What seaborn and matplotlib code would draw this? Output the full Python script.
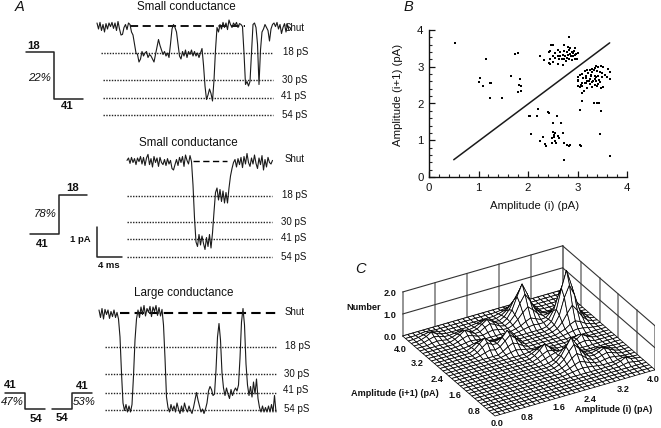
import numpy as np
import matplotlib
matplotlib.use("Agg")
import matplotlib.pyplot as plt
from matplotlib.lines import Line2D
from matplotlib.ticker import MultipleLocator
from mpl_toolkits.mplot3d import proj3d
import seaborn as sns

sns.set_style("white")
plt.rcParams['font.family'] = ['Liberation Sans', 'DejaVu Sans']

W, H = 661, 428
LEVEL_NAMES = ["18 pS", "30 pS", "41 pS", "54 pS"]
SAMPLE_MS = 0.24

# Panel A: current traces (pA), one sample every 0.24 ms
trace1 = [.1,-.1,.12,-.15,.05,-.2,.08,-.1,.1,-.02,.12,-.08,.1,-.15,.15,-.1,-.3,-.28,-.05,.05,-.12,.1,.05,-.2,
          -.3,-.6,-.9,-.95,
          -1.2,-1.1,-.85,-1.0,-.9,-.85,-1.05,-.95,-1.0,-1.1,-1.2,-.95,-.7,-.45,-.65,-.8,-.95,-.85,-1.0,-.9,-1.05,
          -.6,-.1,.05,-.05,-.2,-.6,
          -1.0,-1.1,-.85,-1.0,-.8,-1.05,-.85,-.95,-.8,-1.0,-.85,-1.0,-.9,-1.05,-.9,-.75,-1.3,
          -2.0,-2.45,-2.3,-2.1,-2.25,-2.5,-1.8,-.8,
          -.05,-.2,.05,-.1,.12,-.05,.1,-.12,.2,.05,-.05,.1,.02,.12,-.05,.08,.05,-.02,
          -.9,-1.95,-1.85,-2.0,-1.85,-.9,
          .05,.1,-.05,-.6,-1.95,-.8,
          -.2,-.1,.05,-.05,-.15,-.5,-.1,.05,.1,-.02,.12,-.1,.05,-.25,-.05,.08,-.2,.05,-.15]
trace2 = [.02,.1,-.08,.12,-.05,.08,-.12,.1,-.02,.15,-.1,.12,-.15,.1,.22,-.12,.08,-.2,.15,-.05,.1,-.18,.12,-.05,
          -.12,.05,-.15,.08,-.1,.02,-.25,-.3,-.12,.05,-.15,.12,-.05,.15,-.18,.2,.02,-.1,.18,-.02,
          -.8,-1.9,-2.7,-2.85,-2.45,-2.8,-2.5,-2.75,-2.95,-2.55,-2.85,-2.45,-2.9,-2.4,-1.7,
          -1.05,-.9,-1.3,-.95,-1.35,-1.0,-1.4,-1.05,-1.4,-.9,-.5,-.25,-.05,
          .05,-.2,.08,-.12,.12,-.22,.15,-.1,.25,-.05,-.18,.1,-.1,.2,-.08,-.25,.1,-.12,.18,-.3,.05,-.2,.12,-.05,-.1,.02]
trace3 = [.1,-.15,.15,-.2,.12,-.05,.1,-.18,.05,-.12,.1,-.15,.02,-.2,-.8,-2.0,-3.0,-3.25,-3.05,-3.3,-3.1,-3.3,-3.05,-2.1,-.9,
          -.2,.1,-.15,.2,-.05,.25,-.1,.15,.02,.22,-.12,.2,.05,.25,-.08,.18,-.1,.12,-.4,-1.5,-2.8,
          -3.15,-3.3,-3.05,-3.25,-3.1,-3.3,-3.0,-3.2,-3.35,-3.1,-3.3,-3.0,-3.2,-3.3,-3.1,-3.25,-3.35,-3.15,
          -2.9,-2.65,-2.9,-3.1,-3.3,-3.2,-3.35,-3.2,-3.0,-2.6,-2.45,-2.55,-2.75,-2.7,
          -1.9,-.8,-.35,-.9,-2.0,-2.5,-2.75,-2.5,-2.7,-2.85,-2.55,-2.75,-2.6,-2.5,-2.6,-2.4,-1.5,-.3,.15,-.4,-1.7,-2.4,
          -2.75,-2.45,-2.8,-2.3,-2.7,-2.2,-2.85,-3.15,-3.3,-3.1,-3.3,-3.15,-3.3,-3.1,-3.3,-3.05,-3.3,-2.75,-3.3]

shut_label = "Shut"
levels1 = [-0.9, -1.8, -2.4, -2.97]
levels2 = [-1.17, -2.03, -2.6, -3.2]
levels3 = [-1.13, -2.03, -2.67, -3.23]

# Panel B: amplitude pairs (pA)
amp_i = [2.83,2.47,2.5,2.72,2.8,2.85,2.95,2.6,2.42,2.45,2.55,2.65,2.72,2.78,2.82,2.88,2.9,2.93,2.97,2.95,2.9,2.85,2.8,2.75,2.7,
         2.65,2.6,2.55,2.5,2.45,2.25,2.32,2.42,2.45,2.5,2.6,2.7,2.76,2.82,2.88,2.95,2.98,2.72,2.78,2.92,3.0,2.86,2.68,2.62,2.84,
         3.38,3.42,3.48,3.52,3.3,3.35,3.25,3.2,3.15,3.62,3.65,3.4,3.45,3.5,3.3,3.22,3.1,3.05,3.02,3.0,3.12,3.18,3.28,3.35,3.42,3.5,
         3.55,3.6,3.66,3.25,3.32,3.38,3.44,3.2,3.15,3.08,3.02,3.1,3.18,3.25,3.3,3.36,3.42,3.48,3.4,3.3,3.35,3.2,3.14,3.1,3.0,3.18,
         3.05,3.1,3.28,3.34,3.45,3.24,3.38,3.52,
         2.05,2.07,2.2,2.18,2.03,2.4,2.42,2.5,2.58,2.67,2.5,2.53,2.55,2.6,2.48,2.62,2.7,2.55,2.52,2.3,2.25,2.35,2.36,2.48,2.57,
         2.72,2.78,2.82,2.85,3.06,3.07,2.72,3.43,3.45,3.66,
         0.52,1.16,1.03,1.02,1.09,1.23,1.26,1.24,1.48,1.66,1.73,1.8,1.84,1.82,1.86,1.85,1.8,
         3.33,3.4,3.48,3.1,3.05]
amp_i1 = [3.8,3.6,3.6,3.58,3.55,3.52,3.5,3.45,3.4,3.42,3.38,3.4,3.42,3.4,3.45,3.4,3.38,3.42,3.36,3.32,3.3,3.35,3.32,3.3,3.32,
          3.28,3.3,3.25,3.3,3.2,3.3,3.18,3.1,3.07,3.12,3.08,3.06,3.15,3.2,3.18,3.22,3.2,3.22,3.25,3.44,3.38,3.28,3.2,3.2,3.36,
          3.02,3.0,3.02,2.98,2.95,2.96,2.92,2.9,2.88,2.94,2.86,2.88,2.86,2.84,2.85,2.82,2.8,2.78,2.72,2.65,2.7,2.74,2.76,2.74,2.76,2.72,
          2.78,2.72,2.66,2.66,2.62,2.6,2.64,2.6,2.55,2.5,2.47,2.48,2.55,2.52,2.58,2.5,2.52,2.42,2.47,2.45,2.68,2.42,2.33,2.28,2.62,2.7,
          2.44,2.56,2.78,2.9,2.58,2.62,2.72,2.46,
          1.67,1.17,1.85,1.67,1.65,1.76,1.75,1.47,1.67,1.47,1.22,1.15,1.2,1.12,1.05,1.06,1.2,0.98,1.1,1.1,0.97,0.9,0.85,0.92,0.92,
          0.92,0.88,0.85,0.87,0.88,0.85,0.45,2.0,1.17,0.58,
          3.65,3.22,2.7,2.58,2.47,2.15,2.55,2.55,2.15,2.76,3.35,3.37,2.66,2.5,2.47,2.33,2.3,
          2.0,2.0,1.8,2.08,1.83]
diag_i = [0.5, 3.65]
diag_i1 = [0.47, 3.65]

# Panel C: histogram heights on a 33 x 33 grid, as (row, first column, heights); everything else is 0
hist_rows = [
 # right peak
 (18,24,[.03,.07,.12,.15,.12,.07,.03]),(19,24,[.07,.15,.3,.4,.3,.15,.07]),
 (20,23,[.03,.12,.35,.7,1.0,.7,.35,.12,.03]),(21,23,[.05,.18,.55,1.3,1.8,1.3,.55,.18,.05]),
 (22,23,[.05,.22,.7,1.6,2.35,1.6,.7,.22,.05]),(23,23,[.05,.18,.55,1.2,1.7,1.2,.55,.18,.05]),
 (24,23,[.03,.12,.35,.65,.95,.65,.35,.12,.03]),(25,24,[.05,.15,.28,.4,.28,.15,.05]),(26,24,[.02,.06,.1,.14,.1,.06,.02]),
 # upper peak
 (23,18,[.03,.07,.12,.15,.12,.07,.03]),(24,18,[.05,.12,.25,.35,.25,.12,.05]),
 (25,17,[.02,.1,.3,.55,.75,.55,.3,.1,.02]),(26,17,[.03,.15,.4,.85,1.2,.85,.4,.15,.03]),
 (27,17,[.03,.18,.5,1.05,1.55,1.05,.5,.18,.03]),(28,17,[.03,.15,.4,.8,1.15,.8,.4,.15,.03]),
 (29,17,[.02,.1,.25,.5,.7,.5,.25,.1,.02]),(30,18,[.05,.12,.22,.3,.22,.12,.05]),(31,19,[.03,.06,.1,.06,.03]),
 # lower peak
 (6,18,[.03,.06,.1,.12,.1,.06,.03]),(7,18,[.05,.12,.22,.3,.22,.12,.05]),
 (8,17,[.02,.08,.2,.4,.55,.4,.2,.08,.02]),(9,17,[.03,.12,.3,.6,.85,.6,.3,.12,.03]),
 (10,17,[.03,.14,.35,.7,1.05,.7,.35,.14,.03]),(11,17,[.03,.1,.25,.5,.7,.5,.25,.1,.03]),
 (12,18,[.05,.15,.25,.35,.25,.15,.05]),(13,19,[.05,.1,.14,.1,.05]),
 # small bumps
 (12,16,[.05,.12,.15,.12,.05]),(13,16,[.08,.2,.3,.2,.08]),(14,16,[.1,.28,.5,.28,.1]),(15,16,[.08,.2,.3,.2,.08]),(16,16,[.03,.08,.12,.08,.03]),
 (17,12,[.05,.1,.15,.1,.05]),(18,12,[.1,.25,.35,.25,.1]),(19,12,[.15,.4,.6,.4,.15]),(20,12,[.15,.45,.7,.45,.15]),(21,12,[.1,.25,.4,.25,.1]),(22,12,[.04,.1,.15,.1,.04]),
 (19,8,[.05,.12,.18,.12,.05]),(20,8,[.08,.25,.4,.25,.08]),(21,8,[.1,.3,.5,.3,.1]),(22,8,[.08,.22,.3,.22,.08]),(23,8,[.03,.08,.12,.08,.03]),
 (25,12,[.04,.1,.14,.1,.04]),(26,12,[.08,.22,.32,.22,.08]),(27,12,[.1,.25,.4,.25,.1]),(28,12,[.06,.15,.25,.15,.06]),(29,12,[.03,.06,.1,.06,.03]),
 (24,7,[.03,.07,.1,.07,.03]),(25,7,[.06,.15,.22,.15,.06]),(26,7,[.07,.2,.35,.2,.07]),(27,7,[.05,.13,.2,.13,.05]),(28,7,[.02,.05,.08,.05,.02]),
 (27,3,[.04,.07,.04]),(28,2,[.03,.1,.16,.1,.03]),(29,2,[.04,.12,.25,.12,.04]),(30,2,[.03,.08,.13,.08,.03]),(31,3,[.03,.05,.03]),
 (7,25,[.03,.07,.1,.07,.03]),(8,25,[.05,.14,.2,.14,.05]),(9,25,[.07,.18,.3,.18,.07]),(10,25,[.05,.14,.2,.14,.05]),(11,25,[.03,.06,.09,.06,.03]),
 (4,28,[.04,.08,.04]),(5,27,[.03,.08,.2,.08,.03]),(6,28,[.04,.08,.04]),
 (14,25,[.08,.12,.08]),(15,24,[.05,.15,.3,.15,.05]),(16,25,[.1,.18,.1]),
]
GRID_STEP = 0.125
wall_ticks = [0, 0.8, 1.6, 2.4, 3.2, 4.0]
z_ticks = [0.0, 1.0, 2.0]

fig = plt.figure(figsize=(W/100, H/100), dpi=100)


def px_rect(x0, y0, x1, y1):
    return [x0/W, 1-y1/H, (x1-x0)/W, (y1-y0)/H]


def label(x, y, s, size=7.2, ha='center', **kw):
    fig.text(x/W, 1-y/H, s, fontsize=size, ha=ha, va='center', color='#111111', **kw)


def seg(xs, ys, lw=1.0, **kw):
    fig.add_artist(Line2D([x/W for x in xs], [1-y/H for y in ys], color=kw.pop('color', '#222222'), lw=lw, **kw))


def draw_trace(values, levels, shut_y, left, right, dash_ms, dot_ms, lw_dash=1.3):
    ax = fig.add_axes(px_rect(left-10, shut_y-20, right+10, shut_y+110))
    ax.patch.set_visible(False)
    ax.set_xlim(-10/6.25, (right-left+10)/6.25)
    ax.set_ylim(-110/30, 20/30)
    ax.axis('off')
    for lev, (a, b) in zip(levels, dot_ms):
        ax.plot([a, b], [lev, lev], color='#222222', lw=1.0, ls=(0, (1, 1)))
    ax.plot(dash_ms, [0, 0], color='black', lw=lw_dash, ls=(0, (4.5, 2.5)))
    t = np.arange(len(values))*SAMPLE_MS
    sns.lineplot(x=t, y=values, ax=ax, estimator=None, sort=False, color='#1a1a1a', lw=0.8)
    ax.set_xlabel(''); ax.set_ylabel('')


def ms(x, left):
    return (x-left)/6.25


# Trace 1
draw_trace(trace1, levels1, 26, 97, 282, [ms(130, 97), ms(245, 97)],
           [(ms(101, 97), ms(272, 97))]+[(ms(103, 97), ms(273, 97))]*3)
# Trace 2
draw_trace(trace2, levels2, 161, 127, 273, [ms(193, 127), ms(227, 127)],
           [(0, ms(272, 127))]*4, lw_dash=1.0)
# Trace 3
draw_trace(trace3, levels3, 313, 99, 272, [ms(120, 99), ms(276, 99)],
           [(ms(105, 99), ms(276, 99))]*4, lw_dash=1.5)

label(186, 7, "Small conductance", size=8.4)
label(188, 143, "Small conductance", size=8.4)
label(184, 293, "Large conductance", size=8.4)

for (x, y, s) in [(285, 28, shut_label), (283, 52, LEVEL_NAMES[0]), (282, 80, LEVEL_NAMES[1]), (281, 96, LEVEL_NAMES[2]), (282, 115, LEVEL_NAMES[3]),
                  (285, 159, shut_label), (282, 195, LEVEL_NAMES[0]), (281, 222, LEVEL_NAMES[1]), (281, 238, LEVEL_NAMES[2]), (281, 257, LEVEL_NAMES[3]),
                  (285, 312, shut_label), (285, 346, LEVEL_NAMES[0]), (284, 374, LEVEL_NAMES[1]), (283, 390, LEVEL_NAMES[2]), (284, 409, LEVEL_NAMES[3])]:
    label(x, y, s, size=7.0, ha='left')

# Gating schematics
seg([26, 54, 54, 83], [52, 52, 98.5, 98.5], lw=1.1)
seg([30, 59, 59, 87], [234, 234, 194.5, 194.5], lw=1.1)
seg([5, 25, 25, 45], [392.5, 392.5, 409, 409], lw=1.1)
seg([52, 72, 72, 92], [409, 409, 392.5, 392.5], lw=1.1)
for (x, y, s) in [(34, 46, "18"), (67, 106, "41"), (73, 188, "18"), (42, 244, "41"),
                  (10, 385, "41"), (36, 419, "54"), (62, 418, "54"), (82, 386, "41")]:
    label(x, y, s, size=8.2, fontweight='bold')
for (x, y, s) in [(40, 78, "22%"), (45, 214, "78%"), (12, 402, "47%"), (84, 402, "53%")]:
    label(x, y, s, size=8.2, fontstyle='italic')

# Scale bar
seg([97, 97, 122], [227, 257, 257], lw=1.1)
label(80, 240, "1 pA", size=6.8, fontweight='bold')
label(109, 265, "4 ms", size=6.8, fontweight='bold')

label(20, 7, "A", size=10.5, fontstyle='italic')
label(408, 7, "B", size=10.5, fontstyle='italic')
label(360, 269, "C", size=10.5, fontstyle='italic')

# Panel B
axb = fig.add_axes(px_rect(429, 30, 627, 177))
sns.scatterplot(x=amp_i, y=amp_i1, ax=axb, marker='s', s=2.0, color='black', linewidth=0)
sns.lineplot(x=diag_i, y=diag_i1, ax=axb, color='#1a1a1a', lw=1.1, estimator=None)
axb.set_xlim(0, 4); axb.set_ylim(0, 4)
axb.xaxis.set_major_locator(MultipleLocator(1)); axb.yaxis.set_major_locator(MultipleLocator(1))
axb.xaxis.set_minor_locator(MultipleLocator(0.2)); axb.yaxis.set_minor_locator(MultipleLocator(0.2))
axb.tick_params(which='major', direction='in', length=4.5, width=0.9, bottom=True, left=True, labelsize=8.2, pad=4, colors='#111111')
axb.tick_params(which='minor', direction='in', length=2.2, width=0.8, bottom=True, left=True)
for s in ['top', 'right']:
    axb.spines[s].set_visible(False)
for s in ['left', 'bottom']:
    axb.spines[s].set_linewidth(1.0); axb.spines[s].set_color('#111111')
axb.set_xlabel("Amplitude (i) (pA)", fontsize=8.2, color='#111111')
axb.set_ylabel("Amplitude (i+1) (pA)", fontsize=8.2, color='#111111')
axb.xaxis.set_label_coords(0.534, -0.163)
axb.yaxis.set_label_coords(-0.131, 0.558)

# Panel C
axc = fig.add_axes(px_rect(380, 180, 680, 480), projection='3d', proj_type='ortho', computed_zorder=False)
axc.patch.set_visible(False)
axc.set_axis_off()
axc.view_init(elev=30, azim=-120)
axc.set_box_aspect((4, 4, 1.1))
axc.set_xlim(0, 4); axc.set_ylim(0, 4); axc.set_zlim(0, 2)
grid = np.arange(33)*GRID_STEP
X, Y = np.meshgrid(grid, grid)
Z = np.zeros((33, 33))
for row, start, heights in hist_rows:
    Z[row, start:start+len(heights)] += heights
axc.plot_surface(X, Y, Z, rstride=1, cstride=1, color='white', shade=False,
                 edgecolor='#000000', linewidth=0.55, zorder=3)
wall = dict(color='#333333', lw=0.8, zorder=1)
for v in wall_ticks:
    axc.plot([v, v], [4, 4], [0, 2], color='#777777', lw=1.1, zorder=1)
    axc.plot([4, 4], [v, v], [0, 2], color='#777777', lw=1.1, zorder=1)
for z in z_ticks:
    axc.plot([0, 4], [4, 4], [z, z], **wall)
axc.plot([4, 4], [0, 4], [2, 2], **wall)
axc.plot([4, 4], [0, 4], [1, 1], **wall)


def project(ax, x, y, z):
    fig.canvas.draw()
    a, b, _ = proj3d.proj_transform(x, y, z, ax.get_proj())
    return ax.transData.transform((a, b))


# Fit the orthographic box to the reference's corners
p0 = project(axc, 0, 0, 0); p1 = project(axc, 4, 0, 0)
side = 300*160/(p1[0]-p0[0])
axc.set_position(px_rect(380, 180, 380+side, 180+side))
p0 = project(axc, 0, 0, 0)
dx, dy = 495-p0[0], (H-416)-p0[1]
axc.set_position(px_rect(380+dx, 180-dy, 380+dx+side, 180-dy+side))

for (x, y, s) in [(390, 293, "2.0"), (390, 315, "1.0"), (390, 337, "0.0"),
                  (400, 349, "4.0"), (417, 364, "3.2"), (437, 380, "2.4"), (455, 396, "1.6"), (474, 411, "0.8"), (497, 424, "0.0"),
                  (527, 417, "0.8"), (559, 407, "1.6"), (590, 399, "2.4"), (623, 390, "3.2"), (653, 380, "4.0"),
                  (364, 308, "Number"), (395, 394, "Amplitude (i+1) (pA)"), (614, 410, "Amplitude (i) (pA)")]:
    label(x, y, s, size=6.6, fontweight='bold')

fig.savefig("out.png", dpi=100)
